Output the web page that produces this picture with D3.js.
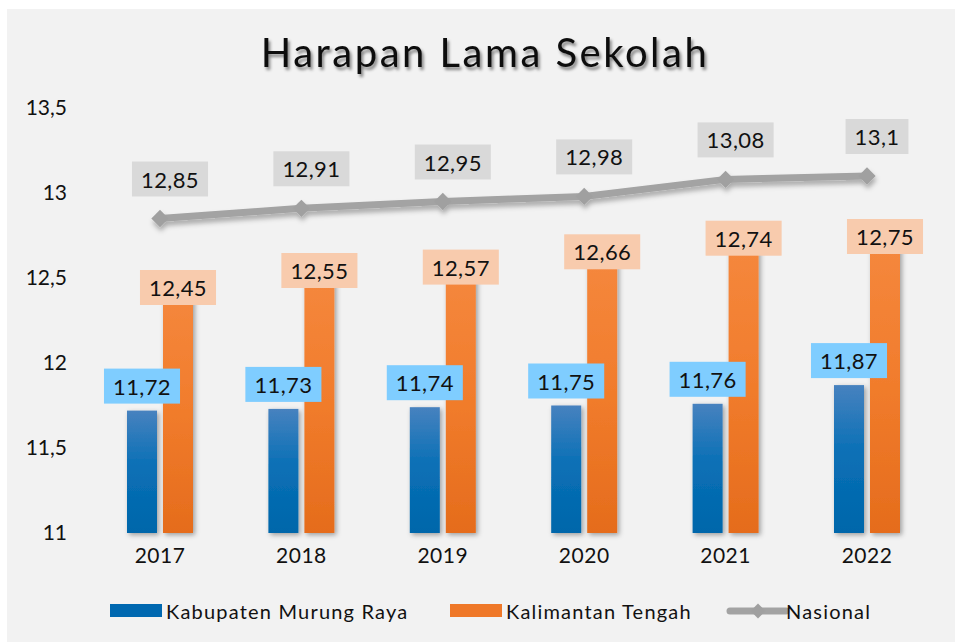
<!DOCTYPE html>
<html>
<head>
<meta charset="utf-8">
<script src="https://cdn.jsdelivr.net/npm/d3@7"></script>
<style>
  body { margin: 0; background: #fff; }
  svg text { font-family: Lato, "Noto Sans", sans-serif; fill: #111; }
</style>
</head>
<body>
<div id="chart"></div>
<script>
// Data
const years = ["2017", "2018", "2019", "2020", "2021", "2022"];
const murungRaya = [11.72, 11.73, 11.74, 11.75, 11.76, 11.87];
const kalteng = [12.45, 12.55, 12.57, 12.66, 12.74, 12.75];
const nasional = [12.85, 12.91, 12.95, 12.98, 13.08, 13.1];
const yTicks = [11, 11.5, 12, 12.5, 13, 13.5];
const seriesNames = ["Kabupaten Murung Raya", "Kalimantan Tengah", "Nasional"];

const width = 955, height = 642;
const fmt = v => String(v).replace(".", ",");

const svg = d3.select("#chart")
    .append("svg")
    .attr("width", width)
    .attr("height", height);

const defs = svg.append("defs");

// gradients
const gBlue = defs.append("linearGradient").attr("id", "gBlue")
    .attr("x1", 0).attr("y1", 0).attr("x2", 0).attr("y2", 1);
gBlue.append("stop").attr("offset", "0%").attr("stop-color", "#4782bf");
gBlue.append("stop").attr("offset", "45%").attr("stop-color", "#0a70b6");
gBlue.append("stop").attr("offset", "100%").attr("stop-color", "#0066aa");

const gOrange = defs.append("linearGradient").attr("id", "gOrange")
    .attr("x1", 0).attr("y1", 0).attr("x2", 0).attr("y2", 1);
gOrange.append("stop").attr("offset", "0%").attr("stop-color", "#f5883e");
gOrange.append("stop").attr("offset", "50%").attr("stop-color", "#f17c2c");
gOrange.append("stop").attr("offset", "100%").attr("stop-color", "#e56c1c");

// shadows
const shadow = defs.append("filter").attr("id", "shadow")
    .attr("x", "-30%").attr("y", "-30%").attr("width", "160%").attr("height", "160%");
shadow.append("feDropShadow").attr("dx", 2).attr("dy", 2).attr("stdDeviation", 2.5)
    .attr("flood-color", "#000").attr("flood-opacity", 0.35);

const lineShadow = defs.append("filter").attr("id", "lineShadow")
    .attr("x", "-10%").attr("y", "-50%").attr("width", "120%").attr("height", "200%");
lineShadow.append("feDropShadow").attr("dx", 1).attr("dy", 4).attr("stdDeviation", 2.5)
    .attr("flood-color", "#000").attr("flood-opacity", 0.3);

const titleShadow = defs.append("filter").attr("id", "titleShadow")
    .attr("x", "-10%").attr("y", "-30%").attr("width", "120%").attr("height", "160%");
titleShadow.append("feDropShadow").attr("dx", 2).attr("dy", 3).attr("stdDeviation", 1.5)
    .attr("flood-color", "#000").attr("flood-opacity", 0.45);

// panel
svg.append("rect")
    .attr("x", 7).attr("y", 9)
    .attr("width", 948).attr("height", height - 9)
    .attr("fill", "#f2f2f2");

// title
svg.append("text")
    .attr("x", 485).attr("y", 67)
    .attr("text-anchor", "middle")
    .attr("font-size", 40)
    .attr("letter-spacing", 2.5)
    .attr("filter", "url(#titleShadow)")
    .text("Harapan Lama Sekolah");

// scales
const x = d3.scaleBand().domain(years).range([89.3, 937.7]).padding(0);
const y = d3.scaleLinear().domain([11, 13.5]).range([533, 108]);
const barW = 30, gap = 6;
const cx = d => x(d) + x.bandwidth() / 2;

// y axis
const yAxis = svg.append("g")
    .attr("transform", "translate(67,0)")
    .call(d3.axisLeft(y).tickValues(yTicks).tickFormat(fmt).tickSize(0).tickPadding(0));
yAxis.select(".domain").remove();
yAxis.selectAll("text")
    .attr("font-size", 21)
    .attr("font-family", "Lato, sans-serif")
    .attr("fill", "#111");

// x axis
const xAxis = svg.append("g")
    .attr("transform", "translate(0,548)")
    .call(d3.axisBottom(x).tickSize(0).tickPadding(0));
xAxis.select(".domain").remove();
xAxis.selectAll("text")
    .attr("font-size", 21)
    .attr("letter-spacing", 0.5)
    .attr("font-family", "Lato, sans-serif")
    .attr("fill", "#111");

// bars
const rows = years.map((yr, i) => ({ yr, a: murungRaya[i], b: kalteng[i], c: nasional[i] }));

svg.append("g").attr("filter", "url(#shadow)")
    .selectAll("rect")
    .data(rows)
    .join("rect")
    .attr("x", d => cx(d.yr) - gap / 2 - barW)
    .attr("y", d => y(d.a))
    .attr("width", barW)
    .attr("height", d => y(11) - y(d.a))
    .attr("fill", "url(#gBlue)");

svg.append("g").attr("filter", "url(#shadow)")
    .selectAll("rect")
    .data(rows)
    .join("rect")
    .attr("x", d => cx(d.yr) + gap / 2)
    .attr("y", d => y(d.b))
    .attr("width", barW)
    .attr("height", d => y(11) - y(d.b))
    .attr("fill", "url(#gOrange)");

// label helper: box + text centered at (mx, my)
function addLabel(g, mx, my, txt, fill) {
    const t = g.append("text")
        .attr("x", mx).attr("y", my)
        .attr("text-anchor", "middle")
        .attr("dominant-baseline", "central")
        .attr("font-size", 22)
        .attr("letter-spacing", 0.4)
        .text(txt);
    const w = t.node().getComputedTextLength() + 18;
    g.insert("rect", "text")
        .attr("x", mx - w / 2).attr("y", my - 17.5)
        .attr("width", w).attr("height", 35)
        .attr("fill", fill);
}

// blue labels
rows.forEach(d => {
    const g = svg.append("g");
    addLabel(g, cx(d.yr) - gap / 2 - barW / 2, y(d.a) - 7 - 17.5, fmt(d.a), "#7fcdff");
});
// orange labels
rows.forEach(d => {
    const g = svg.append("g");
    addLabel(g, cx(d.yr) + gap / 2 + barW / 2, y(d.b) + 1, fmt(d.b), "#f8cbad");
});

// national line
const line = d3.line().x(d => cx(d.yr)).y(d => y(d.c));
const lineG = svg.append("g").attr("filter", "url(#lineShadow)");
lineG.append("path")
    .datum(rows)
    .attr("d", line)
    .attr("fill", "none")
    .attr("stroke", "#a3a3a3")
    .attr("stroke-width", 7);
lineG.selectAll(".mk")
    .data(rows)
    .join("path")
    .attr("class", "mk")
    .attr("d", d3.symbol(d3.symbolSquare, 150))
    .attr("transform", d => `translate(${cx(d.yr)},${y(d.c)}) rotate(45)`)
    .attr("fill", "#a0a0a0");

// gray labels
rows.forEach(d => {
    const g = svg.append("g");
    addLabel(g, cx(d.yr) + 10, y(d.c) - 22 - 17.5, fmt(d.c), "#d9d9d9");
});

// legend
const legend = svg.append("g").attr("transform", "translate(0,611)");
const legendX = [110, 450, 730];
seriesNames.forEach((name, i) => {
    const g = legend.append("g").attr("transform", `translate(${legendX[i]},0)`);
    if (i < 2) {
        g.append("rect")
            .attr("x", 0).attr("y", -7)
            .attr("width", 52).attr("height", 13)
            .attr("fill", i === 0 ? "#0068b0" : "#ef7828");
    } else {
        g.append("line")
            .attr("x1", 0).attr("x2", 56)
            .attr("stroke", "#a3a3a3").attr("stroke-width", 7)
            .attr("stroke-linecap", "round");
        g.append("path")
            .attr("d", d3.symbol(d3.symbolSquare, 110))
            .attr("transform", "translate(28,0) rotate(45)")
            .attr("fill", "#a0a0a0");
    }
    g.append("text")
        .attr("x", 56)
        .attr("y", 0)
        .attr("dominant-baseline", "central")
        .attr("font-size", 20)
        .attr("letter-spacing", 1.2)
        .text(name);
});
</script>
</body>
</html>
